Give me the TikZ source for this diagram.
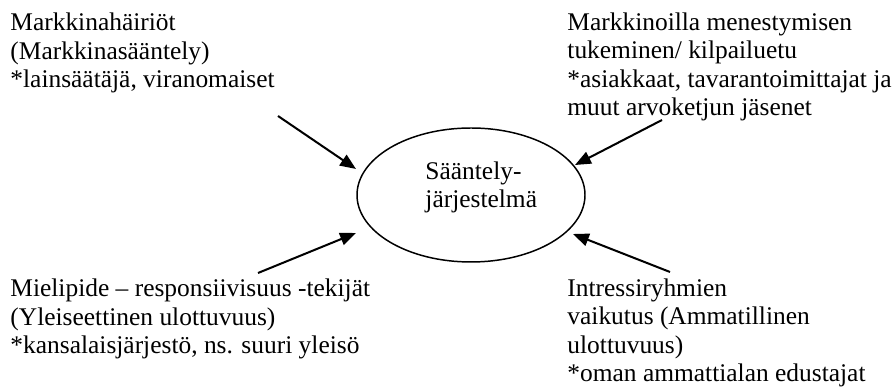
\documentclass[tikz,border=0pt]{standalone}
\usepackage{fontspec}
\setmainfont{Liberation Serif}
\usetikzlibrary{arrows.meta,shapes.geometric}

\begin{document}
\begin{tikzpicture}[
  x=0.4717pt, y=-0.4717pt,
  % base anchor of a multi-line node sits on its last line
  txt/.style={anchor=base west, align=left, inner sep=0pt,
              font=\fontsize{12}{13.5}\selectfont},
  influence/.style={draw, line width=0.95pt,
                    -{Triangle[length=7.5pt, width=6pt]}},
  core/.style={ellipse, draw, line width=0.7pt, inner sep=0pt,
               minimum width=228*0.4717pt, minimum height=134*0.4717pt}
]
\useasboundingbox (0,0) rectangle (896,389);

% central system
\node[core] (sys) at (471,195) {};
\node[txt] (systext) at (425,208) {Sääntely-\\järjestelmä};

% four influencing factors
\node[txt] (tl) at (10,88) {Markkinahäiriöt\\(Markkinasääntely)\\*lainsäätäjä, viranomaiset};
\node[txt] (tr) at (567,116) {Markkinoilla menestymisen\\tukeminen/ kilpailuetu\\*asiakkaat, tavarantoimittajat ja\\muut arvoketjun jäsenet};
\node[txt] (bl) at (10,354) {Mielipide – responsiivisuus -tekijät\\(Yleiseettinen ulottuvuus)\\*kansalaisjärjestö, ns. suuri yleisö};
\node[txt] (br) at (567,382) {Intressiryhmien\\vaikutus (Ammatillinen\\ulottuvuus)\\*oman ammattialan edustajat};

% arrow ends
\coordinate (tlS) at (278,116);
\coordinate (tlE) at (356,169);
\coordinate (trS) at (662,120);
\coordinate (trE) at (575,165);
\coordinate (blS) at (258,273);
\coordinate (blE) at (356,233);
\coordinate (brS) at (670,272);
\coordinate (brE) at (573,234);

\draw[influence] (tlS) -- (tlE);
\draw[influence] (trS) -- (trE);
\draw[influence] (blS) -- (blE);
\draw[influence] (brS) -- (brE);
\end{tikzpicture}
\end{document}
